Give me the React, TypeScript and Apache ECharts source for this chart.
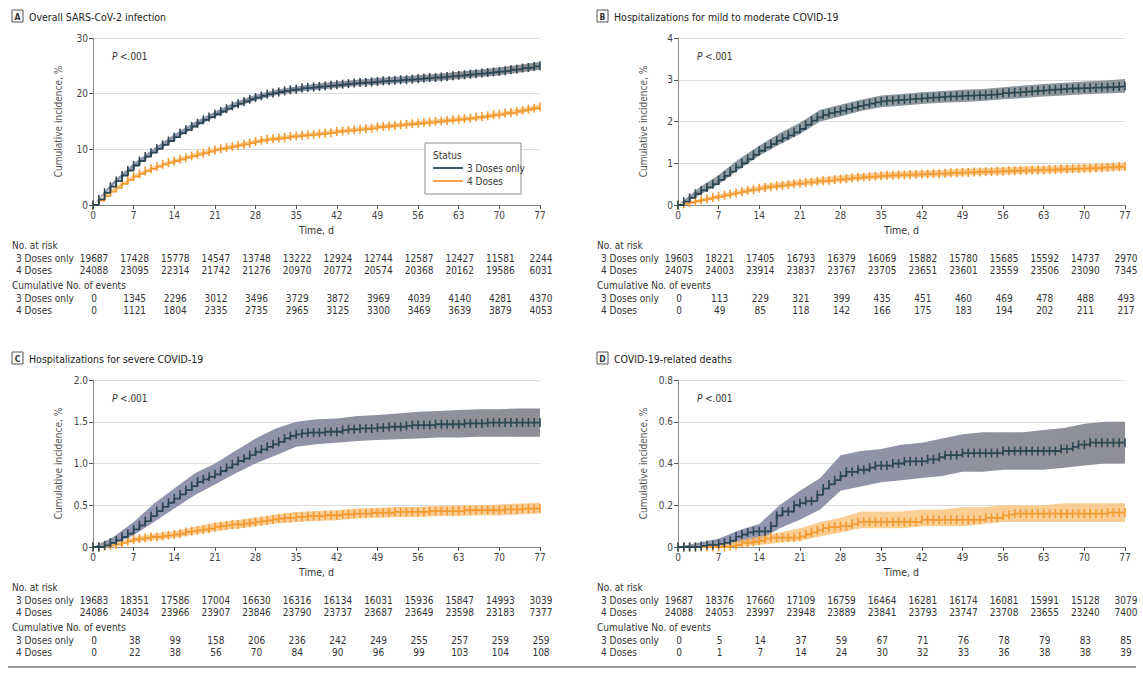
import React, { useEffect, useRef } from "react";
import * as echarts from "echarts";

const FONT = '"Liberation Sans Narrow", "DejaVu Sans Condensed", Roboto, sans-serif';
const DARK = "#2b4753";
const ORANGE = "#f39a30";
const TXT = "#333333";

const DAYS = Array.from({ length: 78 }, (_, i) => i);
const TICK_DAYS = [0, 7, 14, 21, 28, 35, 42, 49, 56, 63, 70, 77];
const BAND_DAYS = [0, 3.5, 7, 10.5, 14, 17.5, 21, 24.5, 28, 31.5, 35, 38.5, 42, 45.5, 49, 52.5, 56, 59.5, 63, 66.5, 70, 73.5, 77];

const TITLES = ["Overall SARS-CoV-2 infection", "Hospitalizations for mild to moderate COVID-19", "Hospitalizations for severe COVID-19", "COVID-19-related deaths"];
const LETTERS = ["A", "B", "C", "D"];
const GROUPS = ["3 Doses only", "4 Doses"];

// Panel A
const A3 = [0,1.0,2.2,3.3,4.3,5.3,6.2,7.1,7.9,8.7,
 9.4,10.1,10.8,11.5,12.2,12.9,13.5,14.1,14.7,15.3,
 15.8,16.3,16.8,17.3,17.8,18.2,18.6,19.0,19.3,19.6,
 19.9,20.1,20.3,20.5,20.7,20.8,21.0,21.1,21.2,21.3,
 21.4,21.5,21.6,21.7,21.8,21.9,22.0,22.0,22.1,22.2,
 22.3,22.3,22.4,22.5,22.5,22.6,22.7,22.8,22.9,22.9,
 23.0,23.1,23.2,23.3,23.4,23.5,23.6,23.7,23.8,23.9,
 24.0,24.1,24.3,24.4,24.6,24.7,24.9,25.0];
const A4 = [0,0.8,1.6,2.4,3.1,3.8,4.5,5.1,5.6,6.1,
 6.5,6.9,7.3,7.6,7.9,8.2,8.5,8.8,9.1,9.3,
 9.6,9.9,10.1,10.3,10.5,10.7,10.9,11.1,11.4,11.6,
 11.8,11.9,12.0,12.1,12.3,12.4,12.5,12.6,12.7,12.8,
 12.9,13.0,13.2,13.3,13.4,13.5,13.6,13.7,13.8,14.0,
 14.1,14.2,14.3,14.4,14.5,14.6,14.7,14.8,14.9,15.0,
 15.1,15.2,15.3,15.4,15.5,15.6,15.8,15.9,16.0,16.2,
 16.3,16.5,16.6,16.8,17.0,17.2,17.4,17.6];
const A3_LO = [0,3.5,6.7,9.3,11.7,13.9,15.8,17.5,18.8,19.7,20.3,20.7,21.0,21.4,21.6,21.85,22.1,22.3,22.65,23.0,23.3,23.8,24.3];
const A3_HI = [0,4.2,7.5,10.2,12.7,14.9,16.8,18.5,19.8,20.7,21.3,21.8,22.2,22.5,22.8,23.05,23.3,23.6,23.95,24.3,24.7,25.2,25.7];
const A4_LO = [0,2.5,4.8,6.4,7.6,8.6,9.55,10.25,11.05,11.6,12.05,12.4,12.85,13.2,13.6,13.95,14.3,14.65,15.0,15.3,15.9,16.45,17.15];
const A4_HI = [0,3.0,5.4,7.0,8.2,9.3,10.25,10.95,11.75,12.3,12.75,13.1,13.55,13.9,14.4,14.75,15.1,15.45,15.8,16.1,16.7,17.35,18.05];
const A_RISK3 = [19687,17428,15778,14547,13748,13222,12924,12744,12587,12427,11581,2244];
const A_RISK4 = [24088,23095,22314,21742,21276,20970,20772,20574,20368,20162,19586,6031];
const A_EV3 = [0,1345,2296,3012,3496,3729,3872,3969,4039,4140,4281,4370];
const A_EV4 = [0,1121,1804,2335,2735,2965,3125,3300,3469,3639,3879,4053];

// Panel B
const B3 = [0,0.08,0.17,0.27,0.35,0.42,0.5,0.6,0.7,0.8,
 0.9,1.0,1.1,1.2,1.3,1.38,1.46,1.54,1.6,1.67,
 1.74,1.82,1.92,2.02,2.1,2.16,2.2,2.23,2.26,2.3,
 2.33,2.37,2.4,2.43,2.46,2.48,2.5,2.51,2.52,2.53,
 2.54,2.55,2.56,2.57,2.58,2.59,2.6,2.6,2.61,2.62,
 2.62,2.63,2.63,2.64,2.65,2.66,2.68,2.69,2.7,2.71,
 2.72,2.73,2.74,2.75,2.76,2.77,2.78,2.79,2.79,2.8,
 2.8,2.81,2.81,2.82,2.82,2.83,2.84,2.85];
const B4 = [0,0.03,0.06,0.09,0.12,0.15,0.18,0.2,0.23,0.26,
 0.29,0.32,0.35,0.37,0.4,0.42,0.44,0.46,0.47,0.49,
 0.51,0.52,0.54,0.55,0.57,0.58,0.59,0.61,0.62,0.63,
 0.65,0.66,0.67,0.68,0.69,0.7,0.71,0.71,0.72,0.72,
 0.73,0.73,0.74,0.74,0.75,0.75,0.76,0.77,0.77,0.78,
 0.78,0.79,0.79,0.8,0.8,0.81,0.81,0.82,0.82,0.83,
 0.83,0.84,0.84,0.84,0.85,0.85,0.86,0.86,0.87,0.87,
 0.88,0.88,0.89,0.9,0.9,0.91,0.92,0.92];
const B3_LO = [0,0.22,0.5,0.85,1.18,1.45,1.7,2.0,2.12,2.25,2.34,2.38,2.42,2.45,2.47,2.49,2.53,2.56,2.6,2.62,2.65,2.67,2.69];
const B3_HI = [0,0.4,0.72,1.1,1.42,1.72,1.97,2.28,2.4,2.52,2.62,2.66,2.7,2.73,2.76,2.78,2.82,2.86,2.9,2.93,2.96,2.98,3.02];
const B4_LO = [0,0.06,0.15,0.25,0.34,0.41,0.46,0.51,0.55,0.6,0.63,0.65,0.67,0.68,0.7,0.72,0.73,0.75,0.76,0.78,0.79,0.81,0.83];
const B4_HI = [0,0.14,0.25,0.36,0.46,0.54,0.59,0.65,0.7,0.74,0.78,0.8,0.82,0.84,0.87,0.88,0.9,0.92,0.93,0.95,0.97,0.99,1.01];
const B_RISK3 = [19603,18221,17405,16793,16379,16069,15882,15780,15685,15592,14737,2970];
const B_RISK4 = [24075,24003,23914,23837,23767,23705,23651,23601,23559,23506,23090,7345];
const B_EV3 = [0,113,229,321,399,435,451,460,469,478,488,493];
const B_EV4 = [0,49,85,118,142,166,175,183,194,202,211,217];

// Panel C
const C3 = [0,0,0.02,0.05,0.08,0.12,0.16,0.21,0.26,0.31,
 0.37,0.43,0.48,0.53,0.58,0.63,0.68,0.73,0.78,0.81,
 0.84,0.87,0.91,0.95,0.99,1.03,1.06,1.1,1.14,1.17,
 1.2,1.23,1.26,1.3,1.33,1.35,1.36,1.37,1.37,1.37,
 1.38,1.38,1.38,1.4,1.41,1.41,1.42,1.42,1.42,1.43,
 1.43,1.44,1.44,1.44,1.45,1.46,1.46,1.46,1.46,1.47,
 1.47,1.47,1.47,1.47,1.48,1.48,1.48,1.48,1.49,1.49,
 1.49,1.49,1.49,1.49,1.49,1.49,1.49,1.49];
const C4 = [0,0,0.01,0.02,0.03,0.05,0.07,0.09,0.1,0.11,
 0.12,0.12,0.13,0.14,0.15,0.16,0.18,0.19,0.2,0.21,
 0.22,0.24,0.25,0.26,0.27,0.27,0.28,0.29,0.3,0.31,
 0.32,0.33,0.34,0.35,0.35,0.36,0.36,0.37,0.37,0.37,
 0.38,0.38,0.38,0.39,0.39,0.4,0.4,0.4,0.41,0.41,
 0.41,0.41,0.42,0.42,0.42,0.42,0.42,0.42,0.43,0.43,
 0.43,0.43,0.43,0.43,0.44,0.44,0.44,0.44,0.44,0.44,
 0.44,0.45,0.45,0.45,0.46,0.46,0.46,0.46];
const C3_LO = [0,0.03,0.14,0.3,0.46,0.62,0.75,0.88,1.0,1.1,1.2,1.23,1.25,1.27,1.28,1.29,1.3,1.31,1.31,1.32,1.32,1.32,1.32];
const C3_HI = [0,0.12,0.3,0.52,0.7,0.88,1.0,1.15,1.3,1.42,1.5,1.53,1.54,1.57,1.58,1.6,1.62,1.63,1.64,1.65,1.65,1.66,1.66];
const C4_LO = [0,0.01,0.06,0.08,0.11,0.15,0.19,0.22,0.25,0.28,0.3,0.31,0.32,0.34,0.35,0.36,0.36,0.37,0.37,0.38,0.38,0.39,0.4];
const C4_HI = [0,0.04,0.12,0.16,0.19,0.24,0.29,0.32,0.35,0.39,0.42,0.43,0.44,0.46,0.47,0.48,0.48,0.49,0.5,0.5,0.51,0.52,0.53];
const C_RISK3 = [19683,18351,17586,17004,16630,16316,16134,16031,15936,15847,14993,3039];
const C_RISK4 = [24086,24034,23966,23907,23846,23790,23737,23687,23649,23598,23183,7377];
const C_EV3 = [0,38,99,158,206,236,242,249,255,257,259,259];
const C_EV4 = [0,22,38,56,70,84,90,96,99,103,104,108];

// Panel D
const D3 = [0,0,0,0,0.005,0.01,0.01,0.015,0.02,0.03,
 0.05,0.06,0.07,0.075,0.075,0.075,0.1,0.15,0.17,0.17,
 0.2,0.21,0.22,0.22,0.25,0.28,0.3,0.32,0.34,0.36,
 0.36,0.37,0.37,0.38,0.39,0.39,0.39,0.4,0.4,0.41,
 0.41,0.41,0.41,0.42,0.42,0.43,0.44,0.44,0.44,0.45,
 0.45,0.45,0.45,0.45,0.45,0.45,0.46,0.46,0.46,0.46,
 0.46,0.46,0.46,0.46,0.46,0.46,0.47,0.47,0.48,0.49,
 0.49,0.5,0.5,0.5,0.5,0.5,0.5,0.5];
const D4 = [0,0,0,0,0,0,0,0,0,0.005,
 0.01,0.02,0.02,0.025,0.03,0.04,0.045,0.045,0.045,0.045,
 0.045,0.05,0.06,0.07,0.08,0.09,0.095,0.095,0.1,0.1,
 0.11,0.12,0.12,0.12,0.12,0.12,0.12,0.12,0.12,0.12,
 0.12,0.12,0.13,0.13,0.13,0.13,0.13,0.13,0.13,0.13,
 0.13,0.13,0.13,0.14,0.14,0.14,0.15,0.155,0.16,0.16,
 0.16,0.16,0.16,0.16,0.16,0.16,0.16,0.16,0.16,0.16,
 0.16,0.16,0.16,0.16,0.165,0.165,0.165,0.165];
const D3_LO = [0,0,0,0.02,0.03,0.09,0.13,0.18,0.27,0.29,0.31,0.32,0.33,0.34,0.36,0.36,0.37,0.37,0.37,0.38,0.39,0.4,0.4];
const D3_HI = [0,0.02,0.04,0.08,0.11,0.2,0.27,0.33,0.44,0.46,0.47,0.49,0.5,0.52,0.54,0.55,0.55,0.55,0.56,0.57,0.59,0.6,0.6];
const D4_LO = [0,0,0,0,0.01,0.02,0.03,0.05,0.07,0.09,0.09,0.09,0.1,0.1,0.1,0.11,0.12,0.12,0.12,0.12,0.12,0.12,0.12];
const D4_HI = [0,0.005,0.01,0.03,0.05,0.07,0.09,0.12,0.14,0.17,0.17,0.17,0.18,0.18,0.19,0.19,0.2,0.2,0.2,0.21,0.21,0.21,0.21];
const D_RISK3 = [19687,18376,17660,17109,16759,16464,16281,16174,16081,15991,15128,3079];
const D_RISK4 = [24088,24053,23997,23948,23889,23841,23793,23747,23708,23655,23240,7400];
const D_EV3 = [0,5,14,37,59,67,71,76,78,79,83,85];
const D_EV4 = [0,1,7,14,24,30,32,33,36,38,38,39];

const Y_MAX = [30, 4, 2, 0.8];
const Y_INT = [10, 1, 0.5, 0.2];

const PANELS = [
  { est3: A3, est4: A4, lo3: A3_LO, hi3: A3_HI, lo4: A4_LO, hi4: A4_HI, r3: A_RISK3, r4: A_RISK4, e3: A_EV3, e4: A_EV4 },
  { est3: B3, est4: B4, lo3: B3_LO, hi3: B3_HI, lo4: B4_LO, hi4: B4_HI, r3: B_RISK3, r4: B_RISK4, e3: B_EV3, e4: B_EV4 },
  { est3: C3, est4: C4, lo3: C3_LO, hi3: C3_HI, lo4: C4_LO, hi4: C4_HI, r3: C_RISK3, r4: C_RISK4, e3: C_EV3, e4: C_EV4 },
  { est3: D3, est4: D4, lo3: D3_LO, hi3: D3_HI, lo4: D4_LO, hi4: D4_HI, r3: D_RISK3, r4: D_RISK4, e3: D_EV3, e4: D_EV4 },
];

// layout
const OX = [0, 585, 0, 585];
const OY = [0, 0, 342, 342];
const GL = 93, GT = 38, GW = 447, GH = 167;

const BAND4 = "rgba(248, 192, 120, 0.8)";

function txt(x: number, y: number, text: string, size: number, align = "left", extra: any = {}) {
  return {
    type: "text", x, y, silent: true, z: 10,
    style: { text, fill: extra.fill || TXT, font: `${extra.italic ? "italic " : ""}${extra.bold ? "bold " : ""}${size}px ${FONT}`, textAlign: align, textVerticalAlign: "middle" },
  };
}

function buildOption() {
  const grid: any[] = [], xAxis: any[] = [], yAxis: any[] = [], series: any[] = [], graphic: any[] = [];
  PANELS.forEach((p, i) => {
    const ox = OX[i], oy = OY[i];
    const left = GL + ox, top = GT + oy;
    grid.push({ left, top, width: GW, height: GH, containLabel: false });
    xAxis.push({
      type: "value", gridIndex: i, min: 0, max: 77, interval: 7,
      name: "Time, d", nameLocation: "middle", nameGap: 19,
      nameTextStyle: { fontFamily: FONT, fontSize: 10.5, color: TXT },
      axisLine: { show: true, lineStyle: { color: "#8a8a8a", width: 1 } },
      axisTick: { show: true, length: 4, lineStyle: { color: "#555" } },
      axisLabel: { fontFamily: FONT, fontSize: 10, color: "#444", margin: 5 },
      splitLine: { show: false },
    });
    const dec = i >= 2;
    yAxis.push({
      type: "value", gridIndex: i, min: 0, max: Y_MAX[i], interval: Y_INT[i],
      name: "Cumulative incidence, %", nameLocation: "middle", nameGap: 30, nameRotate: 90,
      nameTextStyle: { fontFamily: FONT, fontSize: 10, color: "#555" },
      axisLine: { show: true, lineStyle: { color: "#8a8a8a", width: 1 } },
      axisTick: { show: true, length: 4, lineStyle: { color: "#555" } },
      axisLabel: { fontFamily: FONT, fontSize: 10, color: "#444", margin: 5, formatter: (v: number) => (v === 0 ? "0" : dec ? v.toFixed(1) : String(v)) },
      splitLine: { show: true, lineStyle: { color: "#dcdcdc", width: 1 } },
    });
    const band = (lo: number[], hi: number[], fill: any) => ({
      type: "custom", xAxisIndex: i, yAxisIndex: i, silent: true, z: 1,
      encode: { x: 0, y: [1, 2] },
      data: BAND_DAYS.map((d, k) => [d, lo[k], hi[k]]),
      renderItem: (params: any, api: any) => {
        if (params.dataIndex !== 0) return null;
        const pts: number[][] = [];
        for (let k = 0; k < BAND_DAYS.length; k++) pts.push(api.coord([BAND_DAYS[k], lo[k]]));
        for (let k = BAND_DAYS.length - 1; k >= 0; k--) pts.push(api.coord([BAND_DAYS[k], hi[k]]));
        return { type: "polygon", shape: { points: pts }, style: { fill, stroke: "none" } };
      },
    });
    const grad3 = new echarts.graphic.LinearGradient(0, 0, 1, 0, [
      { offset: 0, color: i === 1 ? "#8d9aa2" : "#9296b4" },
      { offset: 1, color: i === 1 ? "#8e979c" : "#8e8f95" },
    ]);
    series.push(band(p.lo3, p.hi3, grad3));
    series.push(band(p.lo4, p.hi4, BAND4));
    const line = (est: number[], color: string, z: number) => ({
      type: "line", xAxisIndex: i, yAxisIndex: i, step: "end", silent: true, z,
      symbol: "rect", symbolSize: [1.6, 9], itemStyle: { color },
      lineStyle: { color, width: 1.8 }, data: DAYS.map((d, k) => [d, est[k]]),
    });
    series.push(line(p.est4, ORANGE, 3));
    series.push(line(p.est3, DARK, 4));

    // title
    graphic.push({ type: "rect", silent: true, shape: { x: 12 + ox, y: 10 + oy, width: 11, height: 12 }, style: { fill: "#fff", stroke: "#555", lineWidth: 1 } });
    graphic.push(txt(17.5 + ox, 16.5 + oy, LETTERS[i], 8.5, "center", { bold: true }));
    graphic.push(txt(29 + ox, 16.5 + oy, TITLES[i], 10.5, "left", { fill: "#222" }));
    // P value
    graphic.push(txt(112 + ox, 56 + oy, "P", 10, "left", { italic: true }));
    graphic.push(txt(120 + ox, 56 + oy, "<.001", 10, "left"));
    // table
    const rows = [245, 258, 270, 285, 298, 310].map((y) => y + oy);
    graphic.push(txt(12 + ox, rows[0], "No. at risk", 10));
    graphic.push(txt(16 + ox, rows[1], GROUPS[0], 10));
    graphic.push(txt(16 + ox, rows[2], GROUPS[1], 10));
    graphic.push(txt(12 + ox, rows[3], "Cumulative No. of events", 10));
    graphic.push(txt(16 + ox, rows[4], GROUPS[0], 10));
    graphic.push(txt(16 + ox, rows[5], GROUPS[1], 10));
    TICK_DAYS.forEach((d, k) => {
      const x = left + (d / 77) * GW + 1;
      graphic.push(txt(x, rows[1], String(p.r3[k]), 10, "center"));
      graphic.push(txt(x, rows[2], String(p.r4[k]), 10, "center"));
      graphic.push(txt(x, rows[4], String(p.e3[k]), 10, "center"));
      graphic.push(txt(x, rows[5], String(p.e4[k]), 10, "center"));
    });
  });
  // legend in panel A
  graphic.push({ type: "rect", silent: true, z: 9, shape: { x: 425, y: 143, width: 96, height: 51 }, style: { fill: "#fff", stroke: "#8a8a8a", lineWidth: 1 } });
  graphic.push(txt(433, 155, "Status", 10));
  graphic.push({ type: "line", silent: true, z: 10, shape: { x1: 433, y1: 168, x2: 463, y2: 168 }, style: { stroke: DARK, lineWidth: 1.8 } });
  graphic.push(txt(467, 168, GROUPS[0], 10));
  graphic.push({ type: "line", silent: true, z: 10, shape: { x1: 433, y1: 181, x2: 463, y2: 181 }, style: { stroke: ORANGE, lineWidth: 1.8 } });
  graphic.push(txt(467, 181, GROUPS[1], 10));
  // bottom rule
  graphic.push({ type: "line", silent: true, shape: { x1: 8, y1: 667, x2: 1136, y2: 667 }, style: { stroke: "#777", lineWidth: 1.5 } });

  return { animation: false, backgroundColor: "#ffffff", grid, xAxis, yAxis, series, graphic };
}

export default function App() {
  const ref = useRef<HTMLDivElement>(null);
  useEffect(() => {
    document.body.style.margin = "0";
    if (!ref.current) return;
    const chart = echarts.init(ref.current, null, { renderer: "svg" });
    chart.setOption(buildOption() as any);
    return () => chart.dispose();
  }, []);
  return <div ref={ref} style={{ width: 1143, height: 675 }} />;
}
